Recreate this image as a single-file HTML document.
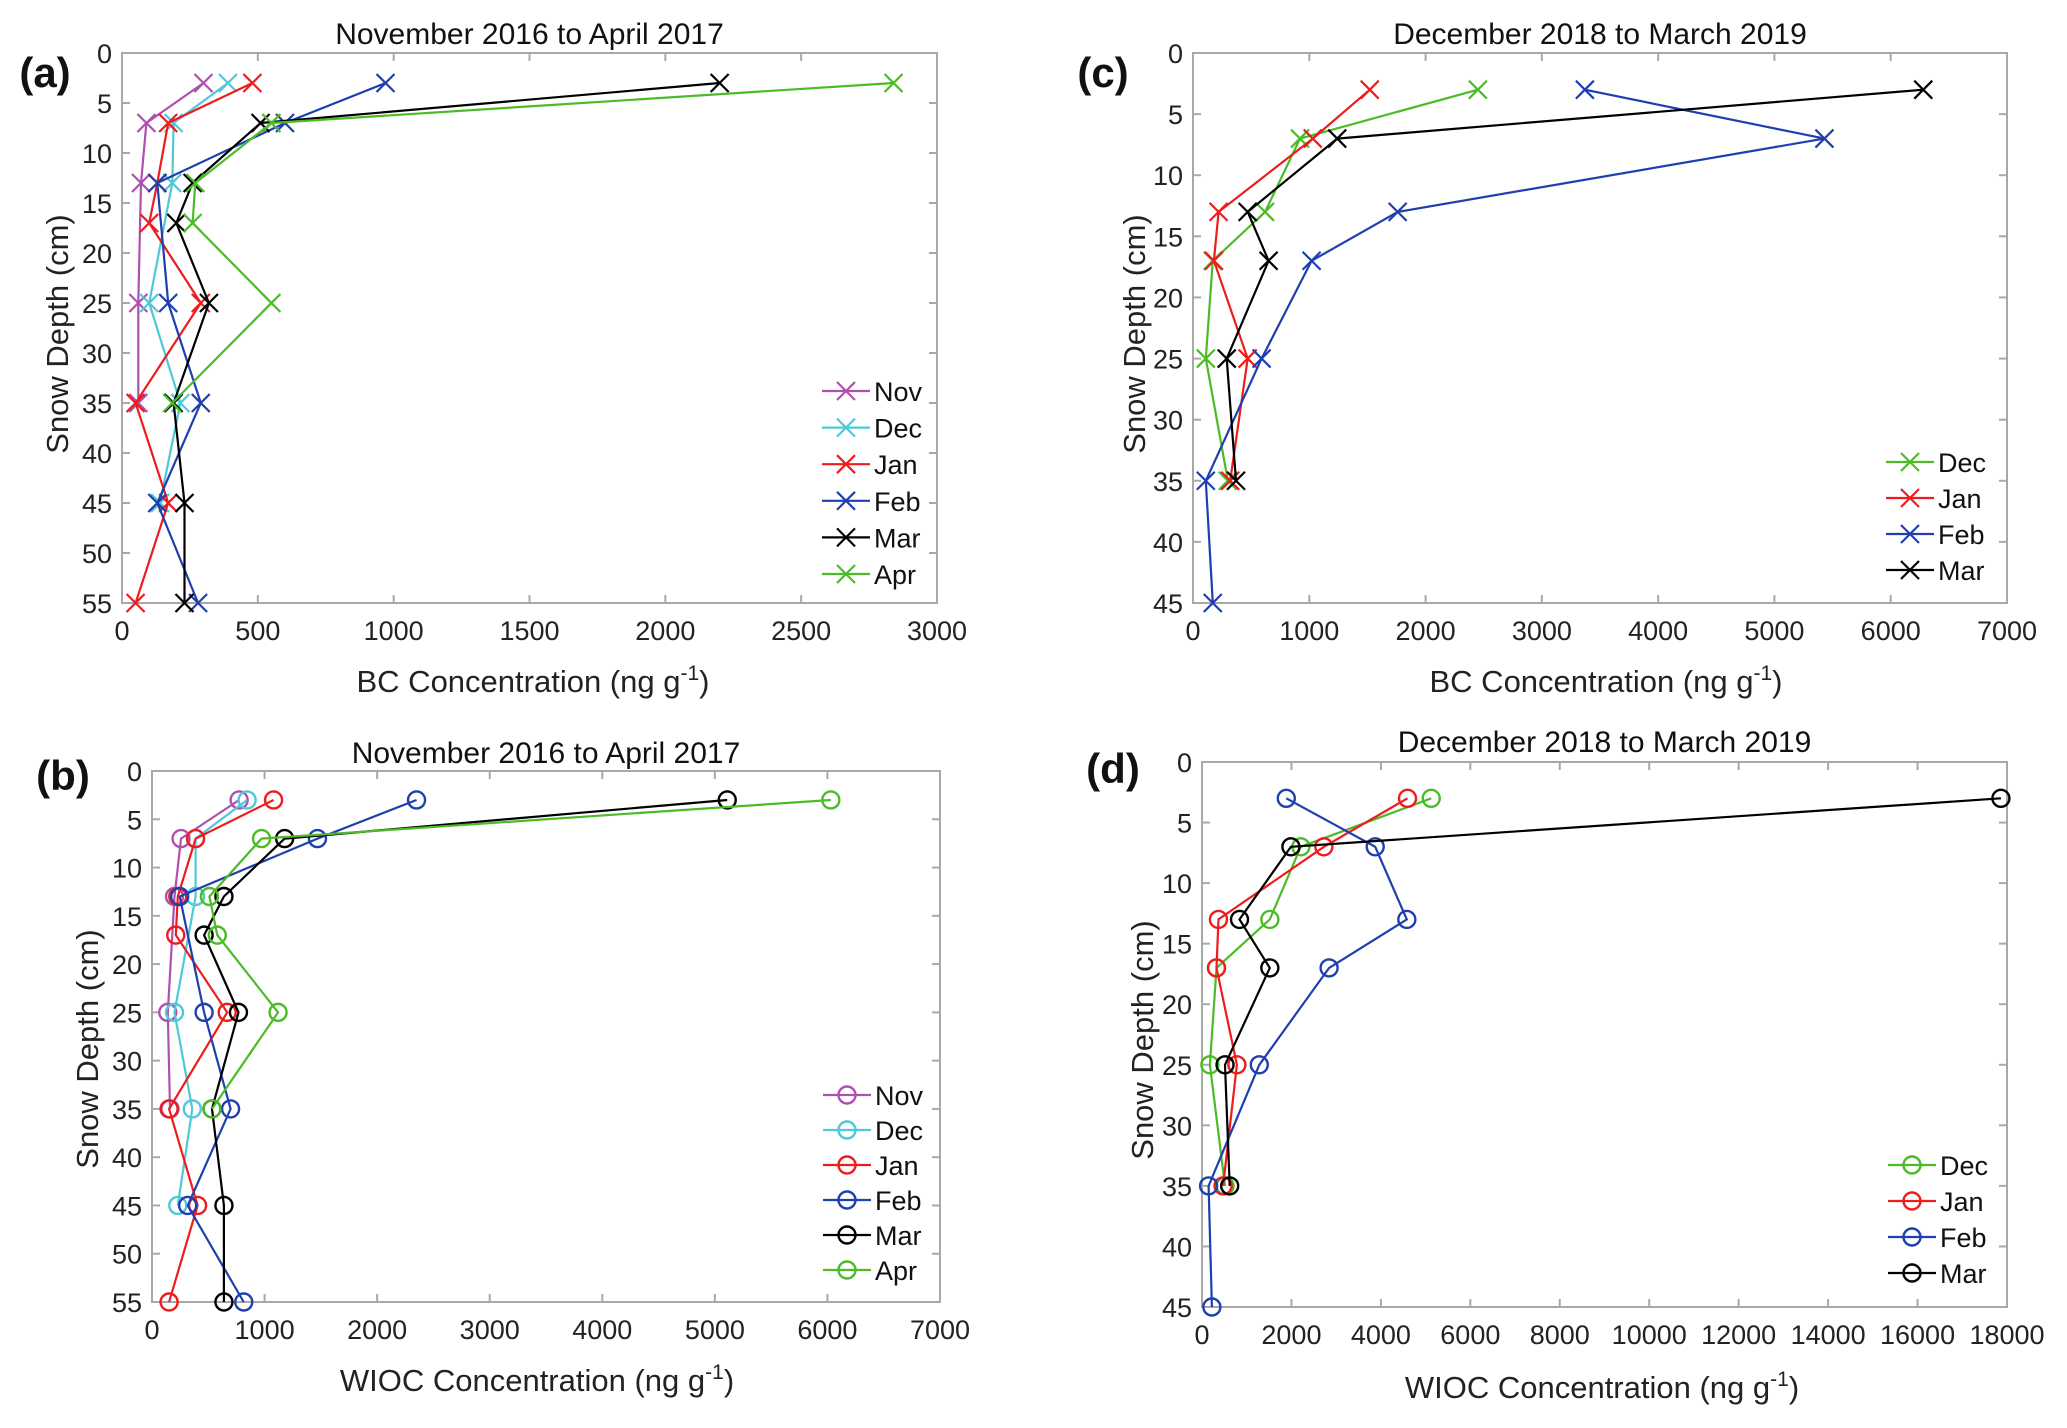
<!DOCTYPE html>
<html><head><meta charset="utf-8"><style>
body{margin:0;background:#fff}
svg{display:block;font-family:"Liberation Sans",Arial,sans-serif}
</style></head><body>
<svg id="fig" width="2067" height="1428" viewBox="0 0 2067 1428" xmlns="http://www.w3.org/2000/svg"></svg>
<script>
const NS="http://www.w3.org/2000/svg";
// ---- data ----
const monthsA=["Nov","Dec","Jan","Feb","Mar","Apr"];
const colorsA=["#b04fb0","#4fc8d8","#ee1c1c","#1f3fae","#000000","#4cbb28"];
const bcA_Nov=[[3,300],[7,90],[13,70],[25,60],[35,60]];
const bcA_Dec=[[3,390],[7,190],[13,185],[25,100],[35,215],[45,140]];
const bcA_Jan=[[3,480],[7,170],[13,130],[17,100],[25,290],[35,50],[45,170],[55,50]];
const bcA_Feb=[[3,970],[7,600],[13,130],[25,170],[35,290],[45,130],[55,280]];
const bcA_Mar=[[3,2200],[7,510],[13,260],[17,200],[25,320],[35,190],[45,230],[55,230]];
const bcA_Apr=[[3,2840],[7,550],[13,270],[17,260],[25,550],[35,185]];
const wiocB_Nov=[[3,774],[7,258],[13,200],[25,140],[35,160]];
const wiocB_Dec=[[3,845],[7,387],[13,387],[25,200],[35,358],[45,229]];
const wiocB_Jan=[[3,1080],[7,387],[13,229],[17,211],[25,668],[35,152],[45,405],[55,152]];
const wiocB_Feb=[[3,2350],[7,1470],[13,246],[25,463],[35,698],[45,317],[55,815]];
const wiocB_Mar=[[3,5110],[7,1178],[13,639],[17,463],[25,768],[35,533],[45,639],[55,639]];
const wiocB_Apr=[[3,6030],[7,973],[13,510],[17,580],[25,1120],[35,533]];
const monthsC=["Dec","Jan","Feb","Mar"];
const colorsC=["#4cbb28","#ee1c1c","#1f3fae","#000000"];
const bcC_Dec=[[3,2450],[7,920],[13,620],[17,170],[25,110],[35,300]];
const bcC_Jan=[[3,1520],[7,1030],[13,220],[17,180],[25,470],[35,320]];
const bcC_Feb=[[3,3370],[7,5430],[13,1760],[17,1020],[25,590],[35,110],[45,170]];
const bcC_Mar=[[3,6280],[7,1240],[13,470],[17,650],[25,290],[35,370]];
const wiocD_Dec=[[3,5125],[7,2210],[13,1517],[17,324],[25,177],[35,515]];
const wiocD_Jan=[[3,4595],[7,2725],[13,368],[17,324],[25,780],[35,471]];
const wiocD_Feb=[[3,1885],[7,3873],[13,4580],[17,2842],[25,1281],[35,147],[45,221]];
const wiocD_Mar=[[3,17864],[7,1988],[13,839],[17,1517],[25,515],[35,619]];
const xTicksA=[0,500,1000,1500,2000,2500,3000];
const xTicksBC=[0,1000,2000,3000,4000,5000,6000,7000];
const xTicksD=[0,2000,4000,6000,8000,10000,12000,14000,16000,18000];
const yTicks55=[0,5,10,15,20,25,30,35,40,45,50,55];
const yTicks45=[0,5,10,15,20,25,30,35,40,45];

const svg=document.getElementById('fig');
function el(tag,attrs,parent,text){const e=document.createElementNS(NS,tag);for(const k in attrs)e.setAttribute(k,attrs[k]);if(text!==undefined)e.textContent=text;(parent||svg).appendChild(e);return e;}

function panel(o){
  const g=el('g',{});
  
  
  const X=v=>o.x0+(v-o.xmin)/(o.xmax-o.xmin)*(o.x1-o.x0);
  const Y=v=>o.y0+(v-0)/(o.ymax)*(o.y1-o.y0);
  const box=el('rect',{x:o.x0,y:o.y0,width:o.x1-o.x0,height:o.y1-o.y0,fill:'none',stroke:'#a8a8a8','stroke-width':2},g);
  
  
  o.xticks.forEach(t=>{const x=X(t);
    el('line',{x1:x,y1:o.y1,x2:x,y2:o.y1-8,stroke:'#a8a8a8','stroke-width':2},g);
    el('line',{x1:x,y1:o.y0,x2:x,y2:o.y0+8,stroke:'#a8a8a8','stroke-width':2},g);
    const t1=el('text',{x:x,y:o.y1+37,'font-size':27,'text-anchor':'middle',fill:'#222'},g,String(t));
    
    
  });
  o.yticks.forEach(t=>{const y=Y(t);
    el('line',{x1:o.x0,y1:y,x2:o.x0+8,y2:y,stroke:'#a8a8a8','stroke-width':2},g);
    el('line',{x1:o.x1,y1:y,x2:o.x1-8,y2:y,stroke:'#a8a8a8','stroke-width':2},g);
    const t2=el('text',{x:o.x0-10,y:y+10,'font-size':27,'text-anchor':'end',fill:'#222'},g,String(t));
    
    
  });
  const ti=el('text',{x:(o.x0+o.x1)/2,y:o.ty,'font-size':30,'text-anchor':'middle',fill:'#111'},g,o.title);
  
  
  const pl=el('text',{x:o.lx,y:o.ly,'font-size':42,'font-weight':'bold','text-anchor':'middle',fill:'#111'},g,'('+o.id+')');
  
  
  const yl=el('text',{x:0,y:0,'font-size':31,'text-anchor':'middle',fill:'#222',transform:`translate(${o.ylx},${o.yly}) rotate(-90)`},g,'Snow Depth (cm)');
  
  
  const xl=el('text',{x:o.xlx,y:o.xly,'font-size':31,'text-anchor':'middle',fill:'#222'},g);
  
  
  xl.appendChild(document.createTextNode(o.xlab+' (ng g'));
  el('tspan',{dy:-12,'font-size':21},xl,'-1');
  el('tspan',{dy:12},xl,')');
  function marker(gg,x,y,c){
    if(o.marker==='x'){
      el('path',{d:`M${x-9},${y-9}L${x+9},${y+9}M${x-9},${y+9}L${x+9},${y-9}`,stroke:c,'stroke-width':2.2,fill:'none'},gg);
    } else {
      el('circle',{cx:x,cy:y,r:8.5,stroke:c,'stroke-width':2.4,fill:'none'},gg);
    }
  }
  o.series.forEach((s,i)=>{
    const c=o.colors[i];
    const sg=el('g',{},g);
    
    
    const pts=s.map(p=>X(p[1]).toFixed(1)+','+Y(p[0]).toFixed(1)).join(' ');
    const ln=el('polyline',{points:pts,fill:'none',stroke:c,'stroke-width':2.2},sg);
    
    
    s.forEach(p=>marker(sg,X(p[1]),Y(p[0]),c));
    const ly=o.legY+i*o.legDy;
    const lg=el('g',{},g);
    
    
    el('line',{x1:o.legX,y1:ly,x2:o.legX+48,y2:ly,stroke:c,'stroke-width':2.2},lg);
    marker(lg,o.legX+24,ly,c);
    el('text',{x:o.legX+52,y:ly+10,'font-size':27,fill:'#111'},lg,o.months[i]);
  });
}
panel({id:'a',x0:122,x1:937,y0:53,y1:603,xmin:0,xmax:3000,ymax:55,xticks:xTicksA,yticks:yTicks55,
  title:'November 2016 to April 2017',ty:44,lx:45,ly:87,ylx:68,yly:334,xlx:533,xly:692,xlab:'BC Concentration',
  marker:'x',months:monthsA,colors:colorsA,series:[bcA_Nov,bcA_Dec,bcA_Jan,bcA_Feb,bcA_Mar,bcA_Apr],legX:822,legY:391,legDy:36.6});
panel({id:'c',x0:1193,x1:2007,y0:53,y1:603,xmin:0,xmax:7000,ymax:45,xticks:xTicksBC,yticks:yTicks45,
  title:'December 2018 to March 2019',ty:44,lx:1103,ly:87,ylx:1145,yly:334,xlx:1606,xly:692,xlab:'BC Concentration',
  marker:'x',months:monthsC,colors:colorsC,series:[bcC_Dec,bcC_Jan,bcC_Feb,bcC_Mar],legX:1886,legY:462,legDy:36});
panel({id:'b',x0:152,x1:940,y0:771,y1:1302,xmin:0,xmax:7000,ymax:55,xticks:xTicksBC,yticks:yTicks55,
  title:'November 2016 to April 2017',ty:763,lx:63,ly:790,ylx:98,yly:1049,xlx:537,xly:1391,xlab:'WIOC Concentration',
  marker:'o',months:monthsA,colors:colorsA,series:[wiocB_Nov,wiocB_Dec,wiocB_Jan,wiocB_Feb,wiocB_Mar,wiocB_Apr],legX:823,legY:1095,legDy:35});
panel({id:'d',x0:1202,x1:2007,y0:762,y1:1307,xmin:0,xmax:18000,ymax:45,xticks:xTicksD,yticks:yTicks45,
  title:'December 2018 to March 2019',ty:752,lx:1113,ly:783,ylx:1153,yly:1040,xlx:1602,xly:1398,xlab:'WIOC Concentration',
  marker:'o',months:monthsC,colors:colorsC,series:[wiocD_Dec,wiocD_Jan,wiocD_Feb,wiocD_Mar],legX:1888,legY:1165,legDy:36});
</script>
</body></html>
